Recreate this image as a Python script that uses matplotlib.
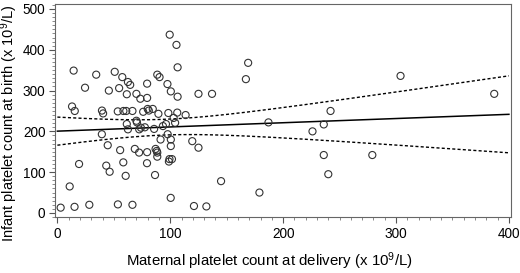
"""
plot.py
-------
Infant platelet count at birth vs maternal platelet count at delivery,
scatter with least-squares line and 95% confidence band for the mean.
"""

import numpy as np
import matplotlib
matplotlib.use("Agg")
import matplotlib.pyplot as plt
from matplotlib.ticker import MultipleLocator

# ── Data (x 10^9/L) ─────────────────────────────────────────────────────────
maternal = [
    304, 387, 242, 236, 226, 236, 279, 240,
    169, 167, 125, 137, 187, 125, 145, 179, 132, 121,
    99.5, 105.5, 106.5, 88.5, 90.5, 79.5, 62.5, 64.5, 97.5, 100.5, 106.5,
    61.5, 70, 73.5, 79.5,
    53.5, 58.5, 61, 66.5, 76, 80, 81, 84.5, 89.5, 98.3, 106.2, 113.6,
    14.4, 34.4, 50.8, 57.5, 24.5, 45.6, 54.7, 13, 15.4, 39.5, 40.5,
    61.5, 62.5, 39.4, 44.6, 55.6, 19.2, 43.3, 46.3, 58.4, 60.5, 10.9,
    2.9, 15.2, 28.3, 53.6,
    70.5, 70, 72.5, 74, 77.5, 85.7, 93.5, 96.2, 104.3, 103, 97.7,
    91.4, 100.5, 100.5, 119.5, 68.6, 72.4, 79.5, 87, 88, 88.5, 88.5,
    79.4, 99.3, 98.8, 101.5, 86.5, 100.4, 66.5,
]
infant = [
    336, 292, 250, 217, 200, 142, 142, 95,
    368, 328, 292, 292, 222, 160, 78, 50, 16, 17,
    437, 412, 357, 339, 333, 317, 321, 314, 316, 298, 285,
    291, 292, 280, 282,
    249, 250, 250, 250, 248, 255, 251, 255, 243, 245, 246, 240,
    349, 339, 346, 333, 307, 300, 306, 261, 250, 251, 244,
    218, 205, 193, 166, 154, 120, 116, 101, 124, 91, 65,
    13, 15, 20, 21,
    222, 226, 205, 209, 210, 206, 213, 218, 221, 233, 193,
    180, 180, 164, 176, 157, 148, 149, 157, 152, 148, 138,
    122, 132, 126, 132, 93, 37, 20,
]

X_TICKS = [0, 100, 200, 300, 400]
Y_TICKS = [0, 100, 200, 300, 400, 500]

X_LABEL = "Maternal platelet count at delivery (x 10$^{9}$/L)"
Y_LABEL = "Infant platelet count at birth (x 10$^{9}$/L)"

plt.rcParams["font.family"] = ["Liberation Sans", "DejaVu Sans"]
plt.rcParams["mathtext.fontset"] = "custom"
plt.rcParams["mathtext.rm"] = "Liberation Sans"
plt.rcParams["mathtext.default"] = "regular"


def fit_line(x, y):
    # ordinary least squares + 95% confidence band for the mean
    x = np.asarray(x, float)
    y = np.asarray(y, float)
    n = len(x)
    slope, intercept = np.polyfit(x, y, 1)
    resid = y - (intercept + slope * x)
    s = np.sqrt(np.sum(resid ** 2) / (n - 2))
    sxx = np.sum((x - x.mean()) ** 2)
    xs = np.linspace(0, 400, 200)
    ys = intercept + slope * xs
    hw = 1.98 * s * np.sqrt(1 / n + (xs - x.mean()) ** 2 / sxx)
    return xs, ys, ys - hw, ys + hw


def main():
    fig = plt.figure(figsize=(5.2, 2.73), dpi=100)
    ax = fig.add_axes([0.106, 0.205, 0.877, 0.780])

    xs, ys, lo, hi = fit_line(maternal, infant)
    ax.plot(xs, ys, color="black", lw=1.1, zorder=3)
    ax.plot(xs, lo, color="black", lw=1.0, ls=(0, (2.2, 1.6)), zorder=3)
    ax.plot(xs, hi, color="black", lw=1.0, ls=(0, (2.2, 1.6)), zorder=3)

    ax.scatter(maternal, infant, s=26, facecolors="none",
               edgecolors="#333333", linewidths=0.8, zorder=4)

    ax.set_xlim(-2, 402)
    ax.set_ylim(-10, 512)
    ax.set_xticks(X_TICKS)
    ax.set_yticks(Y_TICKS)
    ax.xaxis.set_minor_locator(MultipleLocator(10))
    ax.yaxis.set_minor_locator(MultipleLocator(10))
    ax.tick_params(which="major", length=4, width=0.8, color="#555555",
                   labelsize=9.8, pad=3)
    ax.tick_params(which="minor", length=2, width=0.6, color="#777777")

    for side in ["top", "right", "left", "bottom"]:
        ax.spines[side].set_color("#666666")
        ax.spines[side].set_linewidth(0.8)

    ax.set_xlabel(X_LABEL, fontsize=10.8)
    ax.set_ylabel(Y_LABEL, fontsize=10.5)
    ax.xaxis.set_label_coords(0.47, -0.155)
    ax.yaxis.set_label_coords(-0.076, 0.44)

    fig.savefig("out.png", dpi=100)
    plt.close(fig)


if __name__ == "__main__":
    main()
